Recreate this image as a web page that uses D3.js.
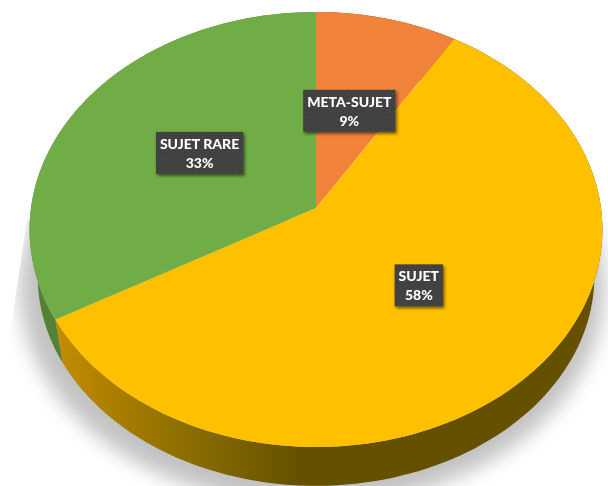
<!DOCTYPE html>
<html><head><meta charset="utf-8">
<script src="https://cdn.jsdelivr.net/npm/d3@7"></script>
<style>html,body{margin:0;padding:0;background:#fff;overflow:hidden}svg{display:block}</style>
</head><body><svg id="c" width="608" height="486"></svg>
<script>
const categories = ["META-SUJET", "SUJET", "SUJET RARE"];
const values = [8.8, 58.0, 33.2];
const topColors = ["#F0823A", "#FFC000", "#70AD47"];
const wallColors = ["#8a4a1c", "#655000", "#548235"];

const svg = d3.select("#c");
const defs = svg.append("defs");

// Perspective projection of the unit disc onto the screen
const persp = 0.0989;
const project = (t, plane) => {
  const X = Math.sin(t), Y = Math.cos(t), w = 1 + persp * Y;
  return [plane.cx + plane.a * X / w, plane.cy - plane.b * Y / w];
};
const topPlane = {cx: 316, cy: 208, a: 285, b: 215.4};
const basePlane = {cx: 316, cy: 255, a: 277, b: 208};

const arcs = d3.pie().value(d => d).sort(null)(values);
const samples = (a, b, n = 120) => d3.range(n + 1).map(i => a + (b - a) * i / n);
const line = d3.line();

// Blur filters and fills
const blur = defs.append("filter").attr("id", "soft")
  .attr("x", "-20%").attr("y", "-20%").attr("width", "140%").attr("height", "140%");
blur.append("feGaussianBlur").attr("stdDeviation", 10);

const textSoft = defs.append("filter").attr("id", "textSoft")
  .attr("x", "-10%").attr("y", "-30%").attr("width", "120%").attr("height", "160%");
textSoft.append("feGaussianBlur").attr("stdDeviation", 0.35);

const labelShadow = defs.append("filter").attr("id", "lblShadow")
  .attr("x", "-20%").attr("y", "-20%").attr("width", "140%").attr("height", "150%");
labelShadow.append("feDropShadow").attr("dx", 1.5).attr("dy", 2).attr("stdDeviation", 1.5)
  .attr("flood-color", "#000").attr("flood-opacity", 0.55);

const dots = defs.append("pattern").attr("id", "dots").attr("patternUnits", "userSpaceOnUse")
  .attr("width", 5).attr("height", 5);
dots.append("rect").attr("width", 5).attr("height", 5).attr("fill", "#404040");
dots.append("circle").attr("cx", 1.25).attr("cy", 1.25).attr("r", 0.7).attr("fill", "#4f4f4f");
dots.append("circle").attr("cx", 3.75).attr("cy", 3.75).attr("r", 0.7).attr("fill", "#4f4f4f");

const wallGrad = defs.append("linearGradient").attr("id", "wallYellow")
  .attr("gradientUnits", "userSpaceOnUse").attr("x1", 55).attr("x2", 300).attr("y1", 0).attr("y2", 0);
wallGrad.append("stop").attr("offset", 0).attr("stop-color", "#c48c00");
wallGrad.append("stop").attr("offset", 0.5).attr("stop-color", "#8f7000");
wallGrad.append("stop").attr("offset", 1).attr("stop-color", "#655000");

// The shadow has a hard slanted cut on its upper left
defs.append("clipPath").attr("id", "shadowClip").append("path")
  .attr("d", line([[27, 220], [8, 345], [0, 486], [608, 486], [608, 220]]) + "Z");

// Soft shadow beneath the pie
const shadowPts = samples(0, 2 * Math.PI, 240).map(t => project(t, {cx: 312, cy: 266, a: 291, b: 216}));
svg.append("g").attr("clip-path", "url(#shadowClip)")
  .append("path").attr("d", line(shadowPts) + "Z").attr("fill", "#000").attr("opacity", 0.24)
  .attr("filter", "url(#soft)");

// Side wall
svg.selectAll("path.wall").data(arcs).join("path").attr("class", "wall")
  .attr("d", d => {
    const ts = samples(d.startAngle, d.endAngle);
    return line(ts.map(t => project(t, topPlane)).concat(ts.slice().reverse().map(t => project(t, basePlane)))) + "Z";
  })
  .attr("fill", (d, i) => i === 1 ? "url(#wallYellow)" : wallColors[i]);

// Top face
svg.selectAll("path.slice").data(arcs).join("path").attr("class", "slice")
  .attr("d", d => line([[topPlane.cx, topPlane.cy]].concat(samples(d.startAngle, d.endAngle).map(t => project(t, topPlane)))) + "Z")
  .attr("fill", (d, i) => topColors[i]);

// Labels
const labelPlane = {cx: topPlane.cx - 1.5, cy: topPlane.cy - 4.5, a: topPlane.a * 0.49, b: topPlane.b * 0.49};
const font = "Lato, 'Open Sans', sans-serif";
const fontSize = 14;
const lineGap = 19;

arcs.forEach((d, i) => {
  const [x, y] = project((d.startAngle + d.endAngle) / 2, labelPlane);
  const g = svg.append("g").attr("transform", `translate(${x},${y})`);
  const rect = g.append("rect").attr("fill", "url(#dots)").attr("filter", "url(#lblShadow)");
  const t1 = g.append("text").attr("text-anchor", "middle").attr("y", -4).text(categories[i]);
  const t2 = g.append("text").attr("text-anchor", "middle").attr("y", -4 + lineGap).text(d3.format(".0f")(values[i]) + "%");
  g.selectAll("text").attr("font-family", font).attr("font-weight", 900)
    .attr("font-size", fontSize).attr("fill", "#fff").attr("filter", "url(#textSoft)");
  const w = t1.node().getComputedTextLength() + 8;
  rect.attr("x", -w / 2).attr("y", -21).attr("width", w).attr("height", 42);
});
</script></body></html>
